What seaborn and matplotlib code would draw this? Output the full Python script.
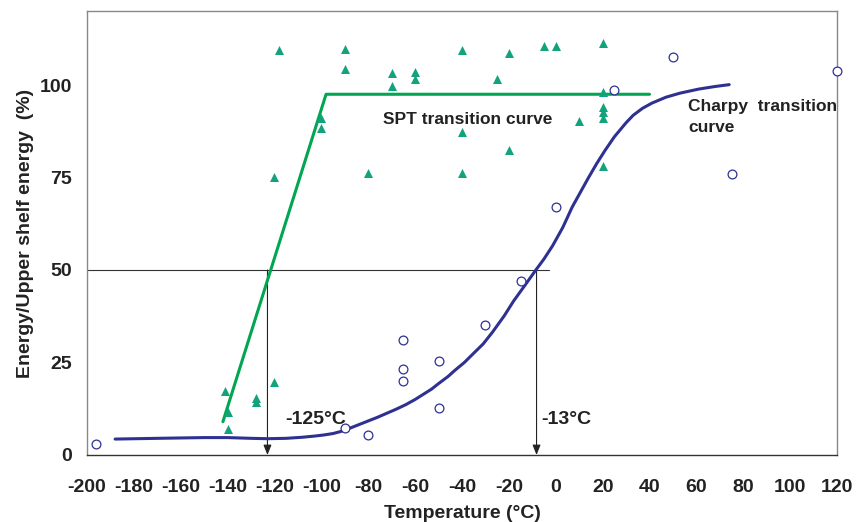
import matplotlib
matplotlib.use("Agg")
import matplotlib.pyplot as plt
import seaborn as sns
import pandas as pd
import numpy as np

# SPT test data (triangles)
spt_temp = [-141, -140, -140, -128, -128, -120, -120, -118, -100, -100, -90, -90, -80,
            -70, -70, -60, -60, -40, -40, -40, -25, -20, -20, -5, 0, 10,
            20, 20, 20, 20, 20, 20]
spt_energy = [17.3, 11.5, 6.9, 15.3, 14.2, 19.8, 75.2, 109.5, 91.0, 88.3, 109.7, 104.2, 76.1,
              103.2, 99.8, 103.4, 101.5, 109.5, 87.2, 76.3, 101.6, 108.6, 82.4, 110.5, 110.5, 90.3,
              111.3, 98.2, 94.1, 92.6, 91.2, 78.2]

# Charpy test data (circles)
charpy_temp = [-196, -90, -80, -65, -65, -65, -50, -50, -30, -15, 0, 25, 50, 75, 120]
charpy_energy = [3.0, 7.3, 5.5, 31.0, 23.2, 19.9, 25.5, 12.7, 35.0, 47.1, 67.1, 98.6, 107.7, 76.0, 103.9]

# SPT transition curve (piecewise)
spt_curve_t = [-142, -98, 40]
spt_curve_e = [9.0, 97.5, 97.5]

# Charpy transition curve (read points)
ch_curve_t = [-188, -170, -150, -140, -130, -123, -115, -108, -103, -99, -95, -92, -88, -84,
              -80, -76, -72, -68, -64, -60, -57, -53, -50, -46, -43, -39, -35.5, -31, -27,
              -22, -18, -13, -8.5, -5, -1.4, 3, 7, 10.5, 14, 17.5, 21, 25, 30, 33, 37,
              41, 47, 53, 61, 68, 74]
ch_curve_e = [4.3, 4.5, 4.7, 4.7, 4.5, 4.4, 4.5, 4.8, 5.1, 5.4, 5.8, 6.3, 7.2, 8.2,
              9.2, 10.2, 11.3, 12.4, 13.6, 15.0, 16.2, 17.8, 19.3, 21.2, 22.9, 25.0, 27.2, 30.0, 33.2,
              37.6, 41.6, 46.0, 50.0, 53.0, 56.5, 61.5, 67.0, 71.0, 75.0, 78.8, 82.3, 86.0, 89.8, 91.8, 93.7,
              95.1, 96.7, 97.8, 98.9, 99.6, 100.1]

# Transition temperatures
t50_spt = -123
t50_charpy = -8.2
half_level = 50
hline_end = -3

x_ticks = list(range(-200, 121, 20))
y_ticks = [0, 25, 50, 75, 100]

sns.set_theme(style="white")
plt.rcParams['font.family'] = ['Liberation Sans', 'DejaVu Sans']
plt.rcParams['font.weight'] = 'bold'
plt.rcParams['axes.unicode_minus'] = False

fig = plt.figure(figsize=(8.57, 5.22), dpi=100)
ax = fig.add_axes([0.1015, 0.1284, 0.8752, 0.8505])

tri_color = "#12a37d"
line_green = "#00a651"
navy = "#2e3192"

# reference lines
ax.plot([-200, hline_end], [half_level, half_level], color="#333333", lw=0.8, zorder=1)
for t in (t50_spt, t50_charpy):
    ax.annotate("", xy=(t, 0), xytext=(t, half_level),
                arrowprops=dict(arrowstyle="-|>,head_length=0.5,head_width=0.2",
                                color="#222222", lw=0.8, shrinkA=0, shrinkB=0), zorder=1)

sns.lineplot(x=spt_curve_t, y=spt_curve_e, sort=False, estimator=None, color=line_green,
             lw=2.2, ax=ax, zorder=2)
sns.lineplot(x=ch_curve_t, y=ch_curve_e, sort=False, estimator=None, color=navy,
             lw=2.2, ax=ax, zorder=2)
for ln in ax.get_lines():
    ln.set_solid_joinstyle('round')

sns.scatterplot(x=spt_temp, y=spt_energy, marker="^", s=42, color=tri_color,
                linewidth=0, ax=ax, zorder=3)
sns.scatterplot(x=charpy_temp, y=charpy_energy, marker="o", s=40, facecolor="white",
                edgecolor=navy, linewidth=0.9, ax=ax, zorder=4)
for coll in ax.collections:
    coll.set_clip_on(False)

ax.set_xlim(-200, 120)
ax.set_ylim(0, 120)
ax.set_xticks(x_ticks)
ax.set_yticks(y_ticks)
ax.tick_params(axis='both', which='major', labelsize=14, direction='out', length=5,
               width=0.8, color="#333333", labelcolor="#222222")
ax.tick_params(axis='x', pad=12)
ax.tick_params(axis='y', pad=4, length=7)
for lab in ax.get_xticklabels() + ax.get_yticklabels():
    lab.set_fontweight('bold')

for side in ['top', 'right', 'left']:
    ax.spines[side].set_color("#888888")
    ax.spines[side].set_linewidth(1.0)
ax.spines['bottom'].set_color("#333333")
ax.spines['bottom'].set_linewidth(1.0)

ax.set_xlabel("Temperature (°C)", fontsize=14, fontweight='bold', color="#222222", labelpad=7)
ax.set_ylabel("Energy/Upper shelf energy  (%)", fontsize=14, fontweight='bold',
              color="#222222", labelpad=4)

ax.text(-73.8, 90.8, "SPT transition curve", fontsize=12.5, fontweight='bold',
        color="#222222", va='center', ha='left')
ax.text(56.4, 94.1, "Charpy  transition", fontsize=12.5, fontweight='bold',
        color="#222222", va='center', ha='left')
ax.text(56.4, 88.5, "curve", fontsize=12.5, fontweight='bold',
        color="#222222", va='center', ha='left')
ax.text(-115.6, 9.5, "-125°C", fontsize=14, fontweight='bold', color="#222222",
        va='center', ha='left')
ax.text(-6.4, 9.6, "-13°C", fontsize=14, fontweight='bold', color="#222222",
        va='center', ha='left')

fig.savefig("out.png", dpi=100)
